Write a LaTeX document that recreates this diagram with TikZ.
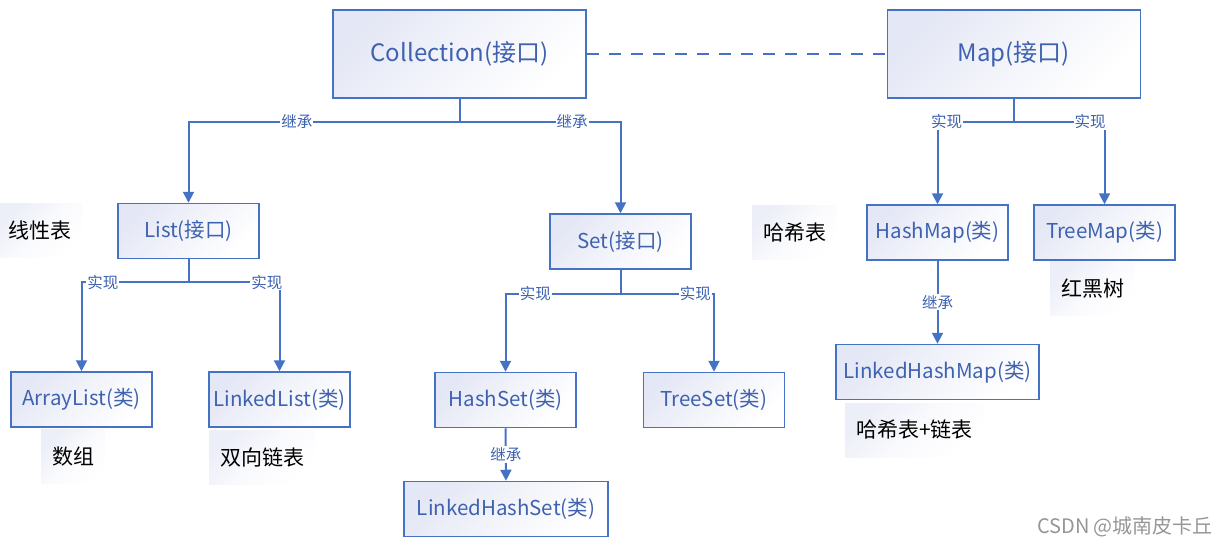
\documentclass[tikz,border=0pt]{standalone}
\usepackage{fontspec}
\setmainfont{Noto Sans CJK SC}
\usetikzlibrary{arrows.meta}

\definecolor{boxblue}{RGB}{68,114,196}
\definecolor{textblue}{RGB}{62,98,176}
\definecolor{lav}{RGB}{228,231,245}
\definecolor{notelav}{RGB}{236,238,248}
\definecolor{markgray}{RGB}{150,150,150}

\tikzset{
	cls/.style={draw=boxblue, line width=1.5pt, top color=lav, bottom color=white, middle color=white!55!lav, shading angle=45,
		text=textblue, font=\fontsize{20.5}{24}\selectfont, minimum width=141pt, minimum height=55pt, inner sep=0pt},
	bigbox/.style={cls, font=\fontsize{24}{28}\selectfont, minimum width=253pt, minimum height=88pt},
	note/.style={top color=notelav, bottom color=white, middle color=white!70!notelav, shading angle=45, text=black,
		font=\fontsize{21}{24}\selectfont, minimum height=54pt, inner xsep=11pt, anchor=west},
	lbl/.style={fill=white, text=textblue, font=\fontsize{15.5}{17}\selectfont, inner sep=1pt},
	link/.style={draw=boxblue, line width=2pt, -{Triangle[width=11pt,length=11pt]}},
	dashline/.style={draw=boxblue, line width=2pt, dash pattern=on 12pt off 10pt},
	wm/.style={text=markgray, font=\fontsize{20}{22}\selectfont}
}

\begin{document}
\begin{tikzpicture}[x=1pt,y=-1pt]
			\useasboundingbox (0,0) rectangle (1226,547);
			% hint boxes
			\node[note] (nlin) at (-3,230.5) {线性表};
			\node[note] (narr) at (41,456.5) {数组};
			\node[note] (ndll) at (209,457) {双向链表};
			\node[note] (nhash) at (752,232.5) {哈希表};
			\node[note] (nrbt) at (1050,288.5) {红黑树};
			\node[note] (nhl) at (845,430) {哈希表+链表};
			% interfaces and classes
			\node[bigbox] (coll) at (459.5,54) {Collection(接口)};
			\node[bigbox] (map) at (1014,54) {Map(接口)};
			\node[cls] (list) at (188.5,231) {List(接口)};
			\node[cls] (set) at (620.5,241.5) {Set(接口)};
			\node[cls] (hmap) at (937.5,232.5) {HashMap(类)};
			\node[cls] (tmap) at (1104.5,232.5) {TreeMap(类)};
			\node[cls] (alist) at (81.5,399.5) {ArrayList(类)};
			\node[cls] (llist) at (279.5,399.5) {LinkedList(类)};
			\node[cls] (hset) at (505.5,400) {HashSet(类)};
			\node[cls] (tset) at (714,400) {TreeSet(类)};
			\node[cls, minimum width=204pt] (lhset) at (506,509) {LinkedHashSet(类)};
			\node[cls, minimum width=203pt] (lhmap) at (937.5,372) {LinkedHashMap(类)};
			% junctions
			\coordinate (cj) at ([yshift=-23pt]coll.south);
			\coordinate (mj) at ([yshift=-23pt]map.south);
			\coordinate (lj) at ([yshift=-23pt]list.south);
			\coordinate (sj) at ([yshift=-24pt]set.south);
			% connectors
			\draw[dashline] (coll.east) -- (map.west);
			\draw[link] (coll.south) -- (cj) -| node[lbl, pos=0.3] {继承} (list.north);
			\draw[link] (coll.south) -- (cj) -| node[lbl, pos=0.35] {继承} (set.north);
			\draw[link] (map.south) -- (mj) -| node[lbl, pos=0.44] {实现} (hmap.north);
			\draw[link] (map.south) -- (mj) -| node[lbl, pos=0.42] {实现} (tmap.north);
			\draw[link] (list.south) -- (lj) -| node[lbl, pos=0.4] {实现} (alist.north);
			\draw[link] (list.south) -- (lj) -| node[lbl, pos=0.43] {实现} (llist.north);
			\draw[link] (set.south) -- (sj) -| node[lbl, pos=0.37] {实现} (hset.north);
			\draw[link] (set.south) -- (sj) -| node[lbl, pos=0.4] {实现} (tset.north);
			\draw[link] (hset.south) -- node[lbl] {继承} (lhset.north);
			\draw[link] (hmap.south) -- node[lbl] {继承} (lhmap.north);
			% watermark
			\node[wm] (mark) at (1125,527) {CSDN @城南皮卡丘};
\end{tikzpicture}
\end{document}
